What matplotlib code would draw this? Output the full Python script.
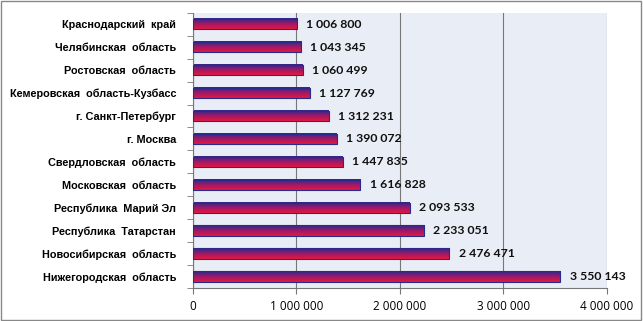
import numpy as np
import matplotlib.pyplot as plt
from matplotlib.colors import LinearSegmentedColormap
from matplotlib.patches import Rectangle

# data (top to bottom as in the chart)
regions = ['Краснодарский  край', 'Челябинская  область', 'Ростовская  область',
           'Кемеровская  область-Кузбасс', 'г. Санкт-Петербург', 'г. Москва',
           'Свердловская  область', 'Московская  область', 'Республика  Марий Эл',
           'Республика  Татарстан', 'Новосибирская  область', 'Нижегородская  область']
values = [1006800, 1043345, 1060499, 1127769, 1312231, 1390072,
          1447835, 1616828, 2093533, 2233051, 2476471, 3550143]
xticks = [0, 1000000, 2000000, 3000000, 4000000]

def fmt(v):
    return '{:,}'.format(v).replace(',', ' ')

fig = plt.figure(figsize=(6.43, 3.21), dpi=100)
ax = fig.add_axes([0.300, 0.103, 0.644, 0.857])
ax.set_facecolor('#e9edf5')

cmap = LinearSegmentedColormap.from_list('flag', ['#e8183c', '#9a1a6a', '#2a2a8c'])
grad = np.linspace(0, 1, 64).reshape(-1, 1)

n = len(values)
ypos = np.arange(n)[::-1]
h = 0.45
bars = ax.barh(ypos, values, height=h, color='none', edgecolor='#2a2a8c', linewidth=0.8, zorder=3)
for b, v, y in zip(bars, values, ypos):
    ax.imshow(grad, extent=[0, v, y - h / 2, y + h / 2], cmap=cmap, aspect='auto',
              origin='lower', zorder=2)
    ax.text(v + 90000, y, fmt(v), va='center', ha='left', fontsize=8.8,
            fontweight='bold', family='Lato', color='#111111')

ax.set_xlim(0, 4000000)
ax.set_ylim(-0.5, n - 0.5)
ax.set_xticks(xticks)
ax.set_xticklabels([fmt(t) for t in xticks], fontsize=8.5, family='Open Sans')
ax.set_yticks(ypos)
ax.set_yticklabels(regions, fontsize=7.8, fontweight='bold', family='Liberation Sans')
ax.set_yticks(np.arange(-0.5, n, 1), minor=True)
ax.tick_params(axis='y', which='major', length=0, pad=12)
ax.tick_params(axis='y', which='minor', length=4, color='#777777')
ax.tick_params(axis='x', length=4, color='#777777', pad=5)
ax.grid(axis='x', color='#777777', linewidth=0.8, zorder=1)
for s in ['top', 'right']:
    ax.spines[s].set_visible(False)
for s in ['left', 'bottom']:
    ax.spines[s].set_color('#777777')

fig.patches.append(Rectangle((0.002, 0.003), 0.995, 0.993, transform=fig.transFigure,
                             fill=False, edgecolor='#888888', linewidth=1))

fig.savefig('out.png', dpi=100)
